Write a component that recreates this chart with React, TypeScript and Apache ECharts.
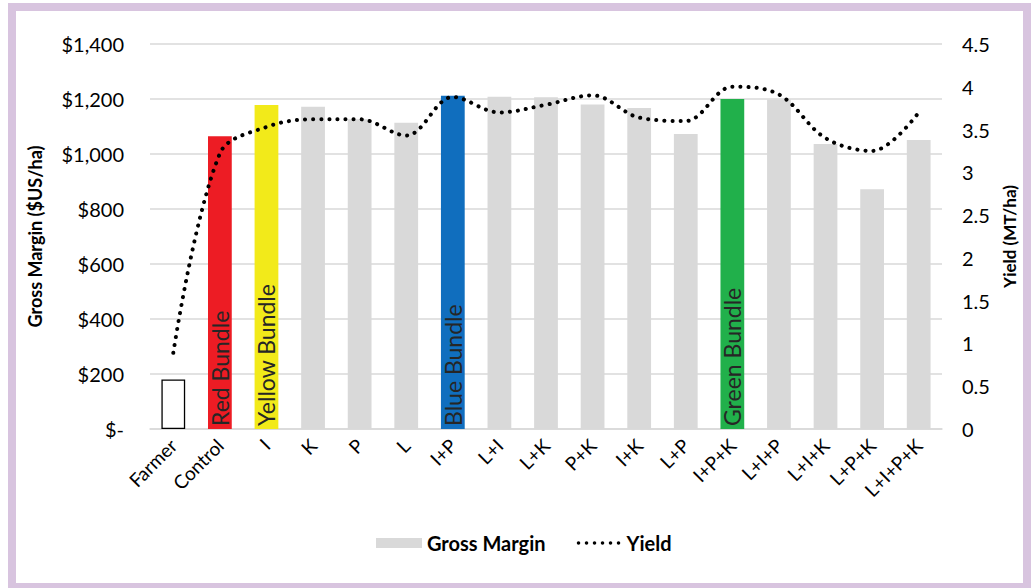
import React, { useEffect, useRef } from "react";
import * as echarts from "echarts";

const categories = ["Farmer", "Control", "I", "K", "P", "L", "I+P", "L+I", "L+K", "P+K", "I+K", "L+P", "I+P+K", "L+I+P", "L+I+K", "L+P+K", "L+I+P+K"];
const grossMargin = [180, 1065, 1178, 1172, 1126, 1114, 1212, 1208, 1206, 1180, 1167, 1073, 1200, 1198, 1036, 872, 1051];
const yieldValues = [0.89, 3.22, 3.53, 3.62, 3.62, 3.43, 3.88, 3.70, 3.79, 3.90, 3.64, 3.60, 4.00, 3.91, 3.40, 3.25, 3.70];
const bundleLabels: Record<string, string> = { Control: "Red Bundle", I: "Yellow Bundle", "I+P": "Blue Bundle", "I+P+K": "Green Bundle" };
const bundleColors: Record<string, string> = { Control: "#ED1C24", I: "#F2EA1A", "I+P": "#106EBE", "I+P+K": "#21B04B" };

const FONT = "Lato, 'DejaVu Sans', sans-serif";
const DOTS_ICON =
  "path://" +
  [3, 11, 19, 27, 35, 43]
    .map((cx) => `M${cx - 1.8},5a1.8,1.8 0 1,0 3.6,0a1.8,1.8 0 1,0 -3.6,0Z`)
    .join(" ") +
  " M0,0 M46,10";

export default function App() {
  const ref = useRef<HTMLDivElement>(null);
  useEffect(() => {
    if (!ref.current) return;
    const chart = echarts.init(ref.current, undefined, { renderer: "svg" });
    const barData = categories.map((c, i) => {
      if (c === "Farmer") {
        return { value: grossMargin[i], itemStyle: { color: "#FFFFFF", borderColor: "#000000", borderWidth: 1.3 } };
      }
      if (bundleLabels[c]) {
        return {
          value: grossMargin[i],
          itemStyle: { color: bundleColors[c] },
          label: {
            show: true,
            formatter: bundleLabels[c],
            position: "insideBottom",
            rotate: 90,
            align: "left",
            verticalAlign: "middle",
            distance: 3,
            color: "#262626",
            fontSize: 23,
            fontFamily: FONT,
          },
        };
      }
      return { value: grossMargin[i] };
    });
    chart.setOption({
      animation: false,
      textStyle: { fontFamily: FONT },
      grid: { left: 150, right: 89, top: 44, bottom: 159, containLabel: false },
      legend: {
        bottom: 30,
        left: 371,
        itemWidth: 46,
        itemHeight: 10,
        itemGap: 30,
        textStyle: { fontSize: 20, fontWeight: "bold", color: "#000", fontFamily: FONT },
        data: [
          { name: "Gross Margin", icon: "rect", itemStyle: { color: "#D9D9D9", borderWidth: 0 } },
          { name: "Yield", icon: DOTS_ICON, itemStyle: { color: "#000", borderWidth: 0 } },
        ],
      },
      xAxis: {
        type: "category",
        data: categories,
        axisLine: { show: true, lineStyle: { color: "#D9D9D9", width: 1.5 } },
        axisTick: { show: false },
        axisLabel: { rotate: 45, fontSize: 19, color: "#000", margin: 13, interval: 0, fontFamily: FONT },
      },
      yAxis: [
        {
          type: "value",
          min: 0,
          max: 1400,
          interval: 200,
          name: "Gross Margin ($US/ha)",
          nameLocation: "middle",
          nameGap: 106,
          nameTextStyle: { fontSize: 18, fontWeight: "bold", color: "#000", fontFamily: FONT },
          axisLine: { show: false },
          axisTick: { show: false },
          axisLabel: {
            fontSize: 20,
            color: "#000",
            margin: 26,
            fontFamily: FONT,
            formatter: (v: number) => (v === 0 ? "$-" : "$" + v.toLocaleString("en-US")),
          },
          splitLine: { lineStyle: { color: "#D9D9D9", width: 1.5 } },
        },
        {
          type: "value",
          min: 0,
          max: 4.5,
          interval: 0.5,
          name: "Yield (MT/ha)",
          nameLocation: "middle",
          nameGap: 48,
          nameTextStyle: { fontSize: 17, fontWeight: "bold", color: "#000", fontFamily: FONT },
          axisLine: { show: false },
          axisTick: { show: false },
          axisLabel: { fontSize: 20, color: "#000", margin: 20, fontFamily: FONT },
          splitLine: { show: false },
        },
      ],
      series: [
        {
          name: "Gross Margin",
          type: "bar",
          data: barData,
          barWidth: "51%",
          itemStyle: { color: "#D9D9D9" },
          yAxisIndex: 0,
        },
        {
          name: "Yield",
          type: "line",
          yAxisIndex: 1,
          data: yieldValues,
          smooth: 0.35,
          symbol: "none",
          lineStyle: { color: "#000", width: 4, type: [0.1, 8], cap: "round" },
          itemStyle: { color: "#000" },
        },
      ],
    });
    return () => chart.dispose();
  }, []);
  return (
    <>
      <div
        style={{
          position: "absolute",
          left: 8,
          top: 3,
          width: 1023,
          height: 588,
          border: "8px solid #D8C4DF",
          boxSizing: "border-box",
          background: "#fff",
        }}
      />
      <div ref={ref} style={{ position: "absolute", left: 0, top: 0, width: 1031, height: 588 }} />
      <div
        style={{
          position: "absolute",
          left: 8,
          top: 583,
          width: 1023,
          height: 8,
          background: "#D8C4DF",
        }}
      />
    </>
  );
}
